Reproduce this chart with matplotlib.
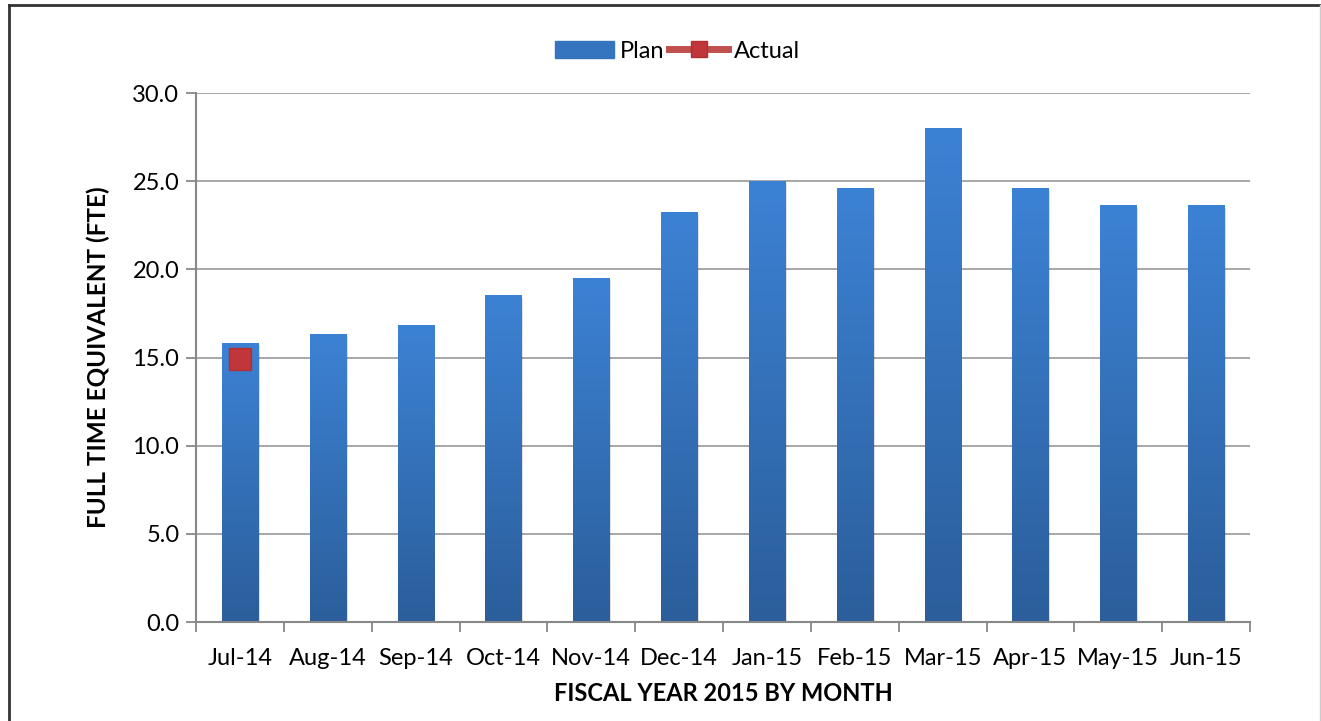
import numpy as np
import matplotlib.pyplot as plt
from matplotlib.lines import Line2D
from matplotlib.patches import Rectangle
from matplotlib.colors import LinearSegmentedColormap

plt.rcParams['font.family'] = ['Lato', 'DejaVu Sans']

# data
months = ["Jul-14", "Aug-14", "Sep-14", "Oct-14", "Nov-14", "Dec-14",
          "Jan-15", "Feb-15", "Mar-15", "Apr-15", "May-15", "Jun-15"]
plan = [15.8, 16.3, 16.8, 18.5, 19.5, 23.2, 25.0, 24.6, 28.0, 24.6, 23.6, 23.6]
actual_months = ["Jul-14"]
actual = [14.9]

fig = plt.figure(figsize=(13.21, 7.21), dpi=100)
ax = fig.add_axes([0.1484, 0.1373, 0.7979, 0.7337])

x = np.arange(len(months))
bar_w = 0.41

# bars with a vertical blue gradient (light top, dark bottom)
grad = np.linspace(0, 1, 256).reshape(-1, 1)
cmap = LinearSegmentedColormap.from_list("blue", ["#2B5E9B", "#3C82D4"])
bars = ax.bar(x, plan, width=bar_w, color="#3575C0", zorder=2)
for b in bars:
    x0, w, h = b.get_x(), b.get_width(), b.get_height()
    # soft shadow
    ax.add_patch(Rectangle((x0 + 0.02, -0.1), w, h, color="#000000", alpha=0.12,
                           zorder=1.5, lw=0))
    ax.imshow(grad, extent=[x0, x0 + w, 0, h], origin="lower", cmap=cmap,
              aspect="auto", zorder=2.1)

ax_idx = [months.index(m) for m in actual_months]
ax.plot(ax_idx, actual, color="#C0504D", lw=4, marker="s", markersize=16,
        markerfacecolor="#C0363A", markeredgecolor="#B03030", zorder=4)

ax.set_xlim(-0.5, len(months) - 0.5)
ax.set_ylim(0, 30)
ax.set_yticks(np.arange(0, 30.1, 5))
ax.set_yticklabels([f"{v:.1f}" for v in np.arange(0, 30.1, 5)], fontsize=17)
ax.yaxis.grid(True, color="#A0A0A0", lw=1.3, zorder=0)
ax.set_axisbelow(True)

ax.set_xticks(np.arange(-0.5, len(months), 1.0))
ax.set_xticklabels([])
ax.set_xticks(x, minor=True)
ax.set_xticklabels(months, minor=True, fontsize=17)
ax.tick_params(axis="x", which="major", length=7, color="#888888", width=1.3)
ax.tick_params(axis="x", which="minor", length=0, pad=19)
ax.tick_params(axis="y", length=7, color="#888888", width=1.3, pad=5)

for s in ["top", "right"]:
    ax.spines[s].set_visible(False)
for s in ["left", "bottom"]:
    ax.spines[s].set_color("#888888")
    ax.spines[s].set_linewidth(1.5)

ax.set_xlabel("FISCAL YEAR 2015 BY MONTH", fontsize=17, fontweight="bold", labelpad=9)
ax.set_ylabel("FULL TIME EQUIVALENT (FTE)", fontsize=17.5, fontweight="bold", labelpad=16)

handles = [Rectangle((0, 0), 1, 1, color="#3575C0"),
           Line2D([], [], color="#C0504D", lw=5, marker="s", markersize=12,
                  markerfacecolor="#C0363A", markeredgecolor="#B03030")]
fig.legend(handles, ["Plan", "Actual"], loc="center", bbox_to_anchor=(0.513, 0.929),
           ncol=2, frameon=False, fontsize=17, handlelength=2.5, handletextpad=0.25,
           columnspacing=0.2)

# outer chart frame
fig.add_artist(Line2D([0.0068, 0.0068], [0, 0.993], color="#333333", lw=2))
fig.add_artist(Line2D([0.0068, 1], [0.993, 0.993], color="#333333", lw=2))
fig.add_artist(Line2D([0.9995, 0.9995], [0, 0.993], color="#CCCCCC", lw=1))

fig.savefig("out.png", dpi=100)
